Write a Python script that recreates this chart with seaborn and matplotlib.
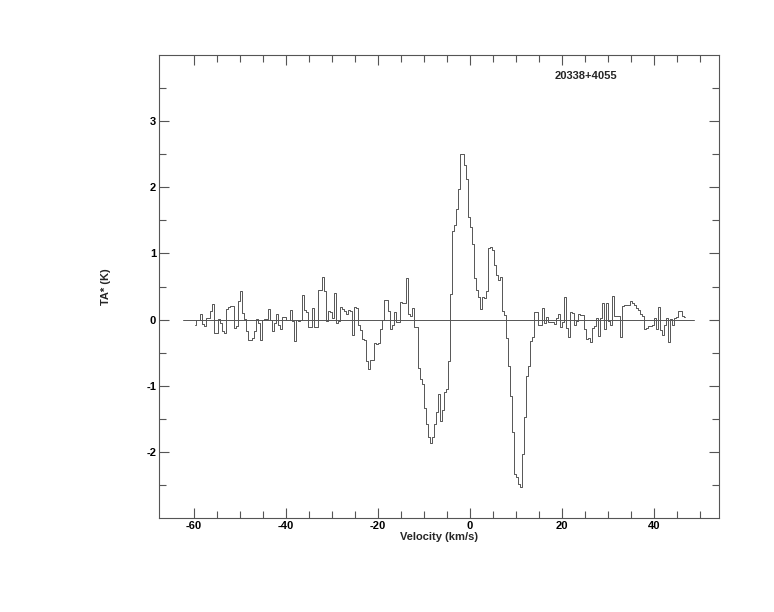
import numpy as np
import pandas as pd
import matplotlib
matplotlib.use("Agg")
import matplotlib.pyplot as plt
import seaborn as sns
from matplotlib.ticker import FixedLocator

# ------------------------------------------------------------
# Spectrum data (channel by channel)
# ------------------------------------------------------------
SOURCE_NAME = "20338+4055"

# channel grid of the spectrum (km/s)
V_START = -59.8
DV = 0.435

# antenna temperature TA* (K), one value per channel
ta_wing_blue = [
    -0.075, -0.01, -0.005, 0.085, -0.065, -0.09, 0.025, 0.025, 0.13, 0.236,
    -0.2, -0.21, 0.01, -0.05, -0.175, -0.21, 0.16, 0.186, 0.2, 0.21,
    -0.125, -0.1, 0.276, 0.437, 0.1, 0.01, -0.166, -0.31, -0.31, -0.276,
    -0.175, 0.01, -0.05, -0.316, 0.0, 0.01, 0.01, 0.16, 0.0, -0.166,
    -0.05, 0.085, -0.075, -0.14, 0.04, 0.04, 0.0, 0.0, 0.14, -0.025,
    -0.326, 0.0, -0.025, 0.0, 0.377, 0.15, 0.11, -0.11, -0.11, 0.176,
]
ta_inner_blue = [
    -0.115, -0.115, 0.447, 0.447, 0.643, 0.437, -0.015, 0.125, 0.115, 0.025,
    0.4, -0.05, -0.015, 0.186, 0.16, 0.125, 0.09, 0.15, 0.125, -0.24,
    0.186, 0.176, -0.085, -0.156, -0.3, -0.316, -0.62, -0.75, -0.61, -0.61,
    -0.36, -0.376, -0.35, -0.15, 0.0, 0.29, 0.3, 0.125, -0.135, -0.075,
    0.115, -0.035, -0.035, 0.266, 0.25, 0.25, 0.628, 0.085, 0.06, 0.176,
    -0.115, -0.115, -0.73, -0.9, -0.98, -1.34, -1.58, -1.78, -1.86, -1.78,
    -1.58, -1.4, -1.12,
]
ta_core = [
    -1.53, -1.36, -1.1, -1.05, -0.63, 0.39, 1.34, 1.43, 1.67,
    1.98, 2.51, 2.51, 2.33, 2.12, 1.55, 1.4, 1.15, 0.63, 0.45,
    0.34, 0.16, 0.34, 0.33, 0.43, 1.08, 1.09, 1.05, 0.82, 0.68,
    0.6, 0.65, 0.125, 0.075, -0.28, -0.7, -1.15, -1.7, -2.33, -2.38,
    -2.48, -2.53, -2.03, -1.48, -0.85, -0.7, -0.33, -0.27, 0.115, 0.115,
]
ta_wing_red = [
    -0.075, -0.085, 0.176, -0.05, 0.04, -0.035, -0.035, -0.04, -0.065, 0.025,
    0.085, -0.115, -0.035, 0.34, -0.125, -0.27, 0.115, 0.1, -0.075, -0.025,
    0.085, 0.065, 0.075, -0.15, -0.29, -0.276, -0.34, -0.125, -0.1, 0.025,
    -0.25, 0.025, 0.25, -0.14, 0.25, -0.025, -0.075, 0.36, 0.06, 0.05,
    0.05, -0.266, 0.2, 0.216, 0.226, 0.226, 0.276, 0.25, 0.216, 0.176,
    0.15, 0.085, 0.05, -0.14, -0.125, -0.1, -0.1, -0.075, 0.025, -0.15,
    0.186, -0.165, -0.226, -0.075, 0.025, -0.34, 0.01, -0.075, 0.025, 0.035,
    0.125, 0.125, 0.05, 0.045,
]

# extent of the zero baseline drawn under the spectrum (km/s)
baseline_x = [-62.4, 48.7]
baseline_y = [0.0, 0.0]

x_major = [-60, -40, -20, 0, 20, 40]
x_minor = [-55, -50, -45, -35, -30, -25, -15, -10, -5,
           5, 10, 15, 25, 30, 35, 45, 50]
y_major = [-2, -1, 0, 1, 2, 3]
y_minor = [-2.5, -1.5, -0.5, 0.5, 1.5, 2.5, 3.5]

# ------------------------------------------------------------
# Style
# ------------------------------------------------------------
sns.set_style("ticks")
LINE_COLOR = "#555555"
plt.rcParams.update({
    "font.family": ["Liberation Sans", "DejaVu Sans"],
    "font.weight": "bold",
    "font.size": 8,
    "axes.edgecolor": LINE_COLOR,
    "axes.linewidth": 0.8,
    "xtick.color": LINE_COLOR,
    "ytick.color": LINE_COLOR,
    "xtick.labelcolor": "black",
    "ytick.labelcolor": "black",
})

ta = ta_wing_blue + ta_inner_blue + ta_core + ta_wing_red
velocity = V_START + DV * np.arange(len(ta))
spec = pd.DataFrame({"velocity": velocity, "ta": ta})

fig = plt.figure(figsize=(7.74, 6.12), dpi=100)
ax = fig.add_axes([0.2054, 0.1536, 0.7235, 0.7565])

sns.lineplot(x=baseline_x, y=baseline_y, ax=ax, color=LINE_COLOR,
             linewidth=0.7, estimator=None, errorbar=None)
sns.lineplot(data=spec, x="velocity", y="ta", ax=ax, color=LINE_COLOR,
             linewidth=0.7, drawstyle="steps-mid", estimator=None,
             errorbar=None, sort=False)

ax.set_xlim(-67.6, 54.1)
ax.set_ylim(-3, 4)

ax.xaxis.set_major_locator(FixedLocator(x_major))
ax.xaxis.set_minor_locator(FixedLocator(x_minor))
ax.yaxis.set_major_locator(FixedLocator(y_major))
ax.yaxis.set_minor_locator(FixedLocator(y_minor))
ax.set_xticklabels([str(v) for v in x_major], fontweight="bold")
ax.set_yticklabels([str(v) for v in y_major], fontweight="bold")

ax.tick_params(which="both", direction="in", top=True, right=True,
               width=0.8)
ax.tick_params(which="major", length=7, pad=2)
ax.tick_params(which="minor", length=5)

for side in ["top", "right"]:
    ax.spines[side].set_visible(True)

ax.set_xlabel("Velocity (km/s)", fontweight="bold", labelpad=1)
ax.set_ylabel("TA* (K)", fontweight="bold", labelpad=25)

ax.text(0.762, 0.955, SOURCE_NAME, transform=ax.transAxes,
        ha="center", va="center", fontweight="bold")

fig.savefig("out.png", dpi=100)
